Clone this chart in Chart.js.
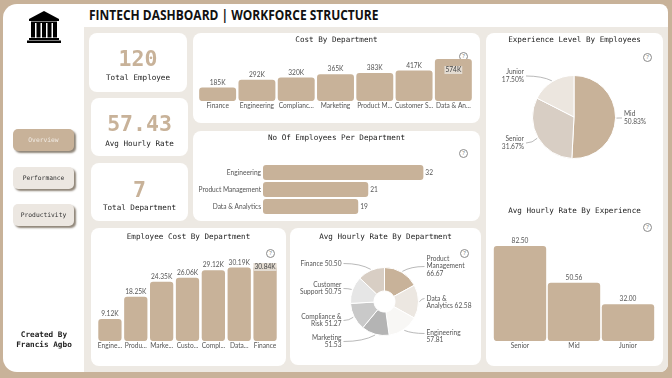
<!DOCTYPE html>
<html>
<head>
<meta charset="utf-8">
<title>Fintech Dashboard</title>
<script src="https://cdn.jsdelivr.net/npm/chart.js@4"></script>
<style>
  html, body { margin: 0; padding: 0; width: 672px; height: 378px; overflow: hidden; background: #c8b299; }
  .abs, canvas { position: absolute; }
  #panel { left: 3px; top: 4px; width: 665px; height: 368px; background: #fff; border-radius: 14px 8px 8px 14px; overflow: hidden; }
  #inner { left: 84px; top: 27px; width: 584px; height: 345px; background: #ede9e3; border-radius: 0 0 8px 0; }
  .card { background: #fff; border-radius: 8px; }
  .title, .kpi-num, .kpi-lab, .btn, #credit { will-change: opacity; }
  .title { font: 7.6px "DejaVu Sans Mono", monospace; color: #222; text-align: center; white-space: nowrap; }
  #main-title { left: 89px; top: 6px; font: bold 13.4px "Open Sans", sans-serif; color: #111; white-space: nowrap; transform: scaleX(0.895); transform-origin: left; }
  .kpi-num { font: bold 21.5px "DejaVu Sans Mono", monospace; color: #c8b299; text-align: center; }
  .kpi-lab { font: 7.6px "DejaVu Sans Mono", monospace; color: #222; text-align: center; }
  .btn { left: 13px; width: 61px; height: 22px; border-radius: 5px; background: #ece7e1; box-shadow: 2px 2px 2px #8f8578;
         font: 6.3px/22px "DejaVu Sans Mono", monospace; color: #333; text-align: center; }
  .help { width: 7px; height: 7px; border: 1px solid #8a8a8a; border-radius: 50%; font: 6px/7px "Open Sans", sans-serif; color: #777; text-align: center; }
  #credit { left: 4px; width: 80px; top: 330px; font: bold 7.7px/10px "DejaVu Sans Mono", monospace; color: #222; text-align: center; }
</style>
</head>
<body>
<div id="panel" class="abs"></div>
<div id="inner" class="abs"></div>

<svg class="abs" style="left:26px;top:10px" width="36" height="34" viewBox="0 0 36 34">
  <path d="M18 1 L33 9 L33 11 L3 11 L3 9 Z M5 11.5 H31 V13 H5 Z M5 13 H9 V27.5 H5 Z M10.5 13 H14.5 V27.5 H10.5 Z M16 13 H20 V27.5 H16 Z M21.5 13 H25.5 V27.5 H21.5 Z M27 13 H31 V27.5 H27 Z M3 28 H33 V30 H3 Z M1 30.5 H35 V33 H1 Z" fill="#000"/>
</svg>
<div id="main-title" class="abs">FINTECH DASHBOARD | WORKFORCE STRUCTURE</div>

<div class="abs btn" style="top:129px;background:#c8b299;color:#f1ebe4">Overview</div>
<div class="abs btn" style="top:167px">Performance</div>
<div class="abs btn" style="top:204px">Productivity</div>
<div id="credit" class="abs">Created By<br>Francis Agbo</div>

<div class="abs card" style="left:89px;top:33px;width:98px;height:59px"></div>
<div class="abs kpi-num" style="left:89px;top:46px;width:98px">120</div>
<div class="abs kpi-lab" style="left:89px;top:73px;width:98px">Total Employee</div>

<div class="abs card" style="left:91px;top:98px;width:97px;height:58px"></div>
<div class="abs kpi-num" style="left:91px;top:111px;width:97px">57.43</div>
<div class="abs kpi-lab" style="left:91px;top:139px;width:97px">Avg Hourly Rate</div>

<div class="abs card" style="left:91px;top:163px;width:97px;height:58px"></div>
<div class="abs kpi-num" style="left:91px;top:177px;width:97px">7</div>
<div class="abs kpi-lab" style="left:91px;top:203px;width:97px">Total Department</div>

<div class="abs card" style="left:193px;top:33px;width:287px;height:90px"></div>
<div class="abs title" style="left:193px;top:35px;width:287px">Cost By Department</div>
<div class="abs help" style="left:459px;top:52px"><span>?</span></div>
<canvas id="costChart" style="left:193px;top:50px" width="287" height="65"></canvas>

<div class="abs card" style="left:193px;top:131px;width:287px;height:90px"></div>
<div class="abs title" style="left:193px;top:133px;width:287px">No Of Employees Per Department</div>
<div class="abs help" style="left:459px;top:149px"><span>?</span></div>
<canvas id="headcountChart" style="left:193px;top:155px" width="287" height="66"></canvas>

<div class="abs card" style="left:486px;top:33px;width:177px;height:333px"></div>
<div class="abs title" style="left:486px;top:35px;width:177px">Experience Level By Employees</div>
<div class="abs help" style="left:643px;top:53px"><span>?</span></div>
<canvas id="levelChart" style="left:486px;top:50px" width="177" height="140"></canvas>
<div class="abs title" style="left:486px;top:206px;width:177px">Avg Hourly Rate By Experience</div>
<div class="abs help" style="left:643px;top:223px"><span>?</span></div>
<canvas id="expRateChart" style="left:486px;top:235px" width="177" height="118"></canvas>

<div class="abs card" style="left:91px;top:228px;width:195px;height:138px"></div>
<div class="abs title" style="left:91px;top:232px;width:195px">Employee Cost By Department</div>
<div class="abs help" style="left:266px;top:249px"><span>?</span></div>
<canvas id="empCostChart" style="left:91px;top:250px" width="195" height="105"></canvas>

<div class="abs card" style="left:290px;top:228px;width:191px;height:137px"></div>
<div class="abs title" style="left:290px;top:232px;width:191px">Avg Hourly Rate By Department</div>
<div class="abs help" style="left:460px;top:249px"><span>?</span></div>
<canvas id="deptRateChart" style="left:290px;top:250px" width="191" height="112"></canvas>

<script>
const TAN = '#c8b299';
const LABEL_FAMILY = 'Lato, sans-serif';
const LABEL_SIZE = 6.6;
const LABEL_FONT = `${LABEL_SIZE}px ${LABEL_FAMILY}`;
const LABEL_COLOR = '#555';

// Cost by department
const costLabels = ['Finance', 'Engineering', 'Complianc...', 'Marketing', 'Product M...', 'Customer S...', 'Data & An...'];
const costValues = [185, 292, 320, 365, 383, 417, 574];

// Headcount per department
const headcountLabels = ['Engineering', 'Product Management', 'Data & Analytics'];
const headcountValues = [32, 21, 19];

// Experience share
const levelLabels = ['Mid', 'Senior', 'Junior'];
const levelValues = [50.83, 31.67, 17.50];
const levelColors = ['#c8b299', '#d8cec4', '#ece6df'];

// Avg hourly rate by experience
const expLabels = ['Senior', 'Mid', 'Junior'];
const expValues = [82.50, 50.56, 32.00];

// Employee cost by department
const empCostLabels = ['Engine...', 'Produ...', 'Marke...', 'Custo...', 'Compl...', 'Data...', 'Finance'];
const empCostValues = [9.12, 18.25, 24.35, 26.06, 29.12, 30.19, 30.84];

// Avg hourly rate by department
const deptLabels = [['Product', 'Management', '66.67'], ['Data &', 'Analytics 62.58'], ['Engineering', '57.81'], ['Marketing', '51.53'], ['Compliance &', 'Risk 51.27'], ['Customer', 'Support 50.75'], ['Finance 50.50']];
const deptValues = [66.67, 62.58, 57.81, 51.53, 51.27, 50.75, 50.50];
const deptColors = ['#c8b299', '#ece7e1', '#f8f7f5', '#b4b4b4', '#c9c9c9', '#e6e6e6', '#d8cec4'];

// value labels on bar ends, pulled back inside the bar when there is no headroom
const barValueLabels = {
  id: 'barValueLabels',
  afterDatasetsDraw(chart, args, opts) {
    const { ctx } = chart;
    const meta = chart.getDatasetMeta(0);
    ctx.save();
    ctx.font = LABEL_FONT;
    meta.data.forEach((bar, i) => {
      const text = opts.format(chart.data.datasets[0].data[i]);
      ctx.fillStyle = LABEL_COLOR;
      if (chart.options.indexAxis === 'y') {
        ctx.textAlign = 'left';
        ctx.textBaseline = 'middle';
        ctx.fillText(text, bar.x + 2, bar.y);
        return;
      }
      ctx.textAlign = 'center';
      ctx.textBaseline = 'middle';
      if (bar.y - 9 < opts.minY) {
        const y = bar.y + opts.insideOffset;
        const w = ctx.measureText(text).width + 2;
        ctx.fillStyle = '#e3dbd1';
        ctx.fillRect(bar.x - w / 2, y - 4, w, 8);
        ctx.fillStyle = '#444';
        ctx.fillText(text, bar.x, y);
      } else {
        ctx.fillText(text, bar.x, bar.y - 5);
      }
    });
    ctx.restore();
  }
};

// outside labels with a curved leader line, spots are relative to the chart centre
const sliceLabels = {
  id: 'sliceLabels',
  afterDatasetsDraw(chart, args, opts) {
    const { ctx } = chart;
    ctx.save();
    ctx.font = LABEL_FONT;
    ctx.textBaseline = 'middle';
    chart.getDatasetMeta(0).data.forEach((arc, i) => {
      const mid = (arc.startAngle + arc.endAngle) / 2;
      const ax = arc.x + Math.cos(mid) * (arc.outerRadius + 1);
      const ay = arc.y + Math.sin(mid) * (arc.outerRadius + 1);
      const spot = opts.spots[i];
      const lines = opts.lines(i);
      const right = spot.dx > 0;
      const lx = arc.x + spot.dx;
      const ly = arc.y + spot.dy;
      ctx.strokeStyle = '#8a8a8a';
      ctx.lineWidth = 0.6;
      ctx.beginPath();
      ctx.moveTo(ax, ay);
      ctx.quadraticCurveTo(ax + (lx - ax) * 0.35, ly, lx + (right ? -2 : 2), ly);
      ctx.stroke();
      ctx.fillStyle = LABEL_COLOR;
      ctx.textAlign = right ? 'left' : 'right';
      const top = ly + (spot.lead || 0);
      lines.forEach((t, n) => ctx.fillText(t, lx, top + n * 7.6));
    });
    ctx.restore();
  }
};

function barOptions(labels, values, padding, opts) {
  return {
    type: 'bar',
    data: { labels, datasets: [{ data: values, backgroundColor: TAN, borderRadius: 3, borderSkipped: false, barPercentage: opts.barPct, categoryPercentage: 1 }] },
    options: {
      responsive: false,
      animation: false,
      layout: { padding },
      plugins: { legend: { display: false }, tooltip: { enabled: false }, barValueLabels: opts.labels },
      scales: {
        x: { grid: { display: false, drawTicks: false }, border: { display: false }, ticks: { color: LABEL_COLOR, font: { size: LABEL_SIZE, family: LABEL_FAMILY }, maxRotation: 0, autoSkip: false, padding: 1 } },
        y: { display: false, beginAtZero: true, max: opts.max }
      }
    },
    plugins: [barValueLabels]
  };
}

new Chart(document.getElementById('costChart'), barOptions(costLabels, costValues, { left: 5, right: 7, top: 9, bottom: 4 },
  { barPct: 0.94, max: 574, labels: { minY: 9, insideOffset: 11, format: v => v + 'K' } }));

new Chart(document.getElementById('empCostChart'), barOptions(empCostLabels, empCostValues, { left: 6, right: 8, top: 16, bottom: 4 },
  { barPct: 0.9, max: 30.84, labels: { minY: 8, insideOffset: 1, format: v => v.toFixed(2) + 'K' } }));

new Chart(document.getElementById('expRateChart'), barOptions(expLabels, expValues, { left: 7, right: 8, top: 11, bottom: 2 },
  { barPct: 0.97, max: 82.5, labels: { minY: 0, insideOffset: 0, format: v => v.toFixed(2) } }));

new Chart(document.getElementById('headcountChart'), {
  type: 'bar',
  data: { labels: headcountLabels, datasets: [{ data: headcountValues, backgroundColor: TAN, borderRadius: 3, borderSkipped: false, barPercentage: 0.87, categoryPercentage: 1 }] },
  options: {
    indexAxis: 'y',
    responsive: false,
    animation: false,
    layout: { padding: { left: 0, right: 0, top: 9, bottom: 6 } },
    plugins: { legend: { display: false }, tooltip: { enabled: false }, barValueLabels: { format: v => String(v) } },
    scales: {
      x: { display: false, min: 0, max: 43.3 },
      y: { grid: { display: false, drawTicks: false }, border: { display: false }, afterFit(s) { s.width = 70; }, ticks: { color: LABEL_COLOR, font: { size: LABEL_SIZE, family: LABEL_FAMILY }, padding: 2 } }
    }
  },
  plugins: [barValueLabels]
});

new Chart(document.getElementById('levelChart'), {
  type: 'pie',
  data: { labels: levelLabels, datasets: [{ data: levelValues, backgroundColor: levelColors, borderColor: '#fff', borderWidth: 1 }] },
  options: {
    responsive: false,
    animation: false,
    layout: { padding: { left: 46, right: 47, top: 25, bottom: 31 } },
    plugins: {
      legend: { display: false }, tooltip: { enabled: false },
      sliceLabels: {
        lines: i => [levelLabels[i], levelValues[i].toFixed(2) + '%'],
        spots: [{ dx: 50, dy: 1, lead: -4 }, { dx: -50, dy: 26, lead: -4 }, { dx: -50, dy: -41, lead: -4 }]
      }
    }
  },
  plugins: [sliceLabels]
});

new Chart(document.getElementById('deptRateChart'), {
  type: 'doughnut',
  data: { labels: deptLabels.map(l => l.join(' ')), datasets: [{ data: deptValues, backgroundColor: deptColors, borderColor: '#fff', borderWidth: 1 }] },
  options: {
    responsive: false,
    animation: false,
    cutout: '31%',
    layout: { padding: { left: 60, right: 62, top: 17, bottom: 26 } },
    plugins: {
      legend: { display: false }, tooltip: { enabled: false },
      sliceLabels: {
        lines: i => deptLabels[i],
        spots: [
          { dx: 42, dy: -35, lead: -8 }, { dx: 42, dy: -3, lead: 0 }, { dx: 42, dy: 32, lead: -1 },
          { dx: -43, dy: 40, lead: -4 }, { dx: -43, dy: 19, lead: -4 }, { dx: -43, dy: -13, lead: -4 }, { dx: -43, dy: -38, lead: 0 }
        ]
      }
    }
  },
  plugins: [sliceLabels]
});
</script>
</body>
</html>
